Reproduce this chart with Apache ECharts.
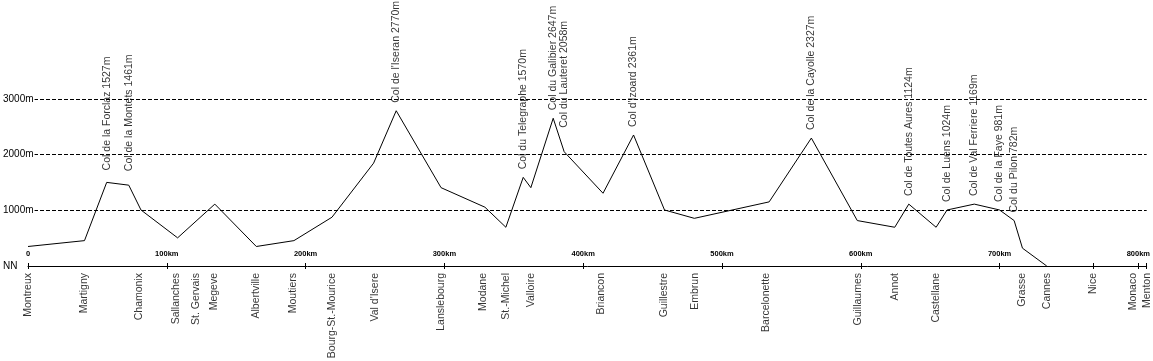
<!DOCTYPE html>
<html>
<head>
<meta charset="utf-8">
<script src="https://cdn.jsdelivr.net/npm/echarts@6/dist/echarts.min.js"></script>
<style>
html,body{margin:0;padding:0;background:#fff;}
#chart{width:1153px;height:361px;}
</style>
</head>
<body>
<div id="chart"></div>
<script>
// Elevation profile: distance (km) and elevation (m)
const profileKm = [0, 40.7, 56.7, 72.6, 81.4, 107.8, 134.6, 164.5, 191.6, 219, 249, 265.3, 297.6, 329.2, 344.3, 356.8, 362.3, 378.4, 386.3, 414.3, 436.3, 458.6, 480.1, 534, 564.4, 597.5, 624.5, 634.6, 654.3, 662.2, 681.8, 700, 710.5, 716.5, 734];
const profileM  = [350, 455, 1500, 1450, 1005, 505, 1110, 350, 455, 875, 1845, 2785, 1405, 1055, 695, 1590, 1405, 2650, 2050, 1305, 2350, 1005, 855, 1150, 2295, 815, 695, 1110, 695, 1005, 1110, 1005, 815, 320, 0];

// Passes: index into profile and label text
const passIndex = [2, 3, 11, 15, 17, 18, 20, 24, 27, 29, 30, 31, 32];
const passNames = ["Col de la Forclaz 1527m", "Col de la Montets 1461m", "Col de l'Iseran 2770m", "Col du Telegraphe 1570m", "Col du Galibier 2647m", "Col du Lauteret 2058m", "Col d'Izoard 2361m", "Col de la Cayolle 2327m", "Col de Toutes Aures 1124m", "Col de Luens 1024m", "Col de Val Ferriere 1169m", "Col de la Faye 981m", "Col du Pilon 782m"];

// Places along the route
const placeNames = ["Montreux", "Martigny", "Chamonix", "Sallanches", "St. Gervais", "Megeve", "Albertville", "Moutiers", "Bourg-St.-Mourice", "Val d'Isere", "Lanslebourg", "Modane", "St.-Michel", "Valloire", "Briancon", "Guillestre", "Embrun", "Barcelonette", "Guillaumes", "Annot", "Castellane", "Grasse", "Cannes", "Nice", "Monaco", "Menton"];
const placeKm = [0, 40.7, 80.2, 106.5, 120.9, 134.1, 164, 190.9, 219.1, 249.8, 297.7, 328.1, 344.8, 362.8, 412.6, 458.1, 480.8, 531.6, 598.2, 624.5, 654.2, 716, 734, 767.5, 796, 806];

// Axis ticks
const kmLabels = [0, 100, 200, 300, 400, 500, 600, 700, 800];
const extraTickKm = [767.5, 806];
const elevLabels = [0, 1000, 2000, 3000];
const gridElev = [1000, 2000, 3000];

const FONT = "'Liberation Sans', Arial, sans-serif";
const labelGapByName = {"Col de la Forclaz 1527m": 12, "Col de la Montets 1461m": 14, "Col du Lauteret 2058m": 24};

const chart = echarts.init(document.getElementById('chart'), null, {renderer: 'canvas'});
const tickKm = kmLabels.concat(extraTickKm);

const option = {
  animation: false,
  backgroundColor: '#fff',
  grid: {left: 25, right: 6, top: 43, bottom: 95, containLabel: false},
  xAxis: [
    {
      type: 'value', min: 0, max: 806, position: 'bottom',
      axisLine: {show: true, lineStyle: {color: '#000', width: 1}},
      axisTick: {show: true, inside: true, length: 3, customValues: tickKm, lineStyle: {color: '#000'}},
      axisLabel: {show: true, inside: true, margin: 8, customValues: kmLabels,
        formatter: v => (v === 0 ? '0' : v + 'km'),
        fontFamily: FONT, fontSize: 7.5, fontWeight: 'bold', color: '#000'},
      splitLine: {show: false}
    },
    {
      type: 'value', min: 0, max: 806, position: 'bottom', offset: 0,
      axisLine: {show: false},
      axisTick: {show: true, inside: false, length: 3, customValues: tickKm, lineStyle: {color: '#000'}},
      axisLabel: {show: false},
      splitLine: {show: false}
    }
  ],
  yAxis: {
    type: 'value', min: 0, max: 4000, z: 10,
    axisLine: {show: false}, axisTick: {show: false}, splitLine: {show: false},
    axisLabel: {
      show: true, customValues: elevLabels, align: 'left', margin: 25,
      formatter: v => (elevLabels.indexOf(v) < 0 ? '' : (v === 0 ? 'NN' : v + 'm')),
      fontFamily: FONT, fontSize: 10, color: '#000',
      backgroundColor: '#fff', padding: [0, 1, 0, 0]
    }
  },
  series: [
    {
      type: 'line', xAxisIndex: 0, z: 2,
      data: profileKm.map((k, i) => [k, profileM[i]]),
      showSymbol: false, symbol: 'none',
      lineStyle: {color: '#000', width: 1},
      markLine: {
        silent: true, symbol: 'none', label: {show: false},
        lineStyle: {color: '#000', width: 1, type: [4, 2]},
        data: gridElev.map(v => ({yAxis: v}))
      }
    },
    {
      type: 'scatter', clip: false, symbolSize: 0, z: 3,
      data: passIndex.map((idx, i) => ({
        value: [profileKm[idx], profileM[idx]],
        name: passNames[i],
        label: {distance: labelGapByName[passNames[i]] || 8}
      })),
      label: {
        show: true, position: 'top', rotate: 90, align: 'left', verticalAlign: 'middle',
        formatter: p => p.name, fontFamily: FONT, fontSize: 10.5, color: '#000'
      }
    },
    {
      type: 'scatter', clip: false, symbolSize: 0, z: 3,
      data: placeKm.map((k, i) => ({value: [k, 0], name: placeNames[i]})),
      label: {
        show: true, position: 'bottom', distance: 7, rotate: 90, align: 'right', verticalAlign: 'middle',
        formatter: p => p.name, fontFamily: FONT, fontSize: 10.5, color: '#000'
      }
    }
  ]
};
chart.setOption(option);
</script>
</body>
</html>
